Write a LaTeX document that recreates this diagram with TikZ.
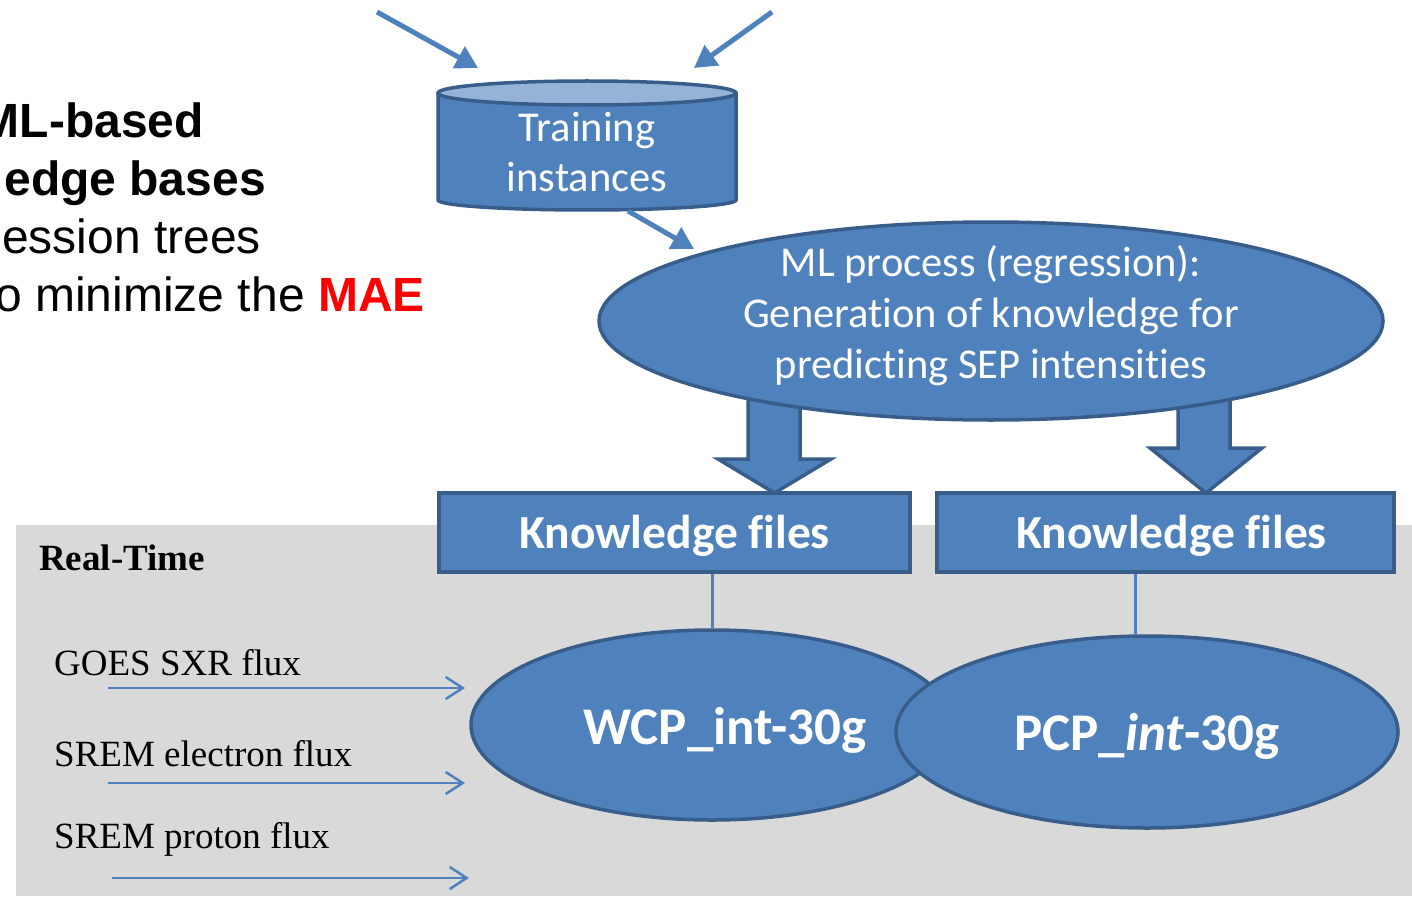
\documentclass[tikz,border=0pt]{standalone}
\usepackage{fontspec}
\setmainfont{Liberation Serif}
\newfontfamily\calfont[Ligatures=NoCommon]{Carlito}
\newfontfamily\arialfont{Liberation Sans}
\usetikzlibrary{shapes.geometric,arrows.meta}
\definecolor{ppblue}{HTML}{4F81BD}
\definecolor{ppedge}{HTML}{385D8A}
\definecolor{pplight}{HTML}{95B3D7}
\definecolor{ppgray}{HTML}{D9D9D9}
\definecolor{ppred}{HTML}{FF0000}
\newcommand{\lowered}[2]{\raisebox{-#1}[\height][\depth]{#2}}
\begin{document}
\begin{tikzpicture}[x=1pt,y=-1pt,
  bluefill/.style={fill=ppblue,draw=ppedge,line width=3.5pt},
  oval/.style={bluefill,ellipse,inner sep=0pt,text=white,align=center},
  filebox/.style={bluefill,rectangle,inner sep=0pt,text=white,
    font=\calfont\bfseries\fontsize{47.5}{52}\selectfont},
  feed/.style={draw=ppblue,line width=5pt,-{Triangle[length=22pt,width=24pt]}},
  inflow/.style={draw=ppblue,line width=2.5pt,-{Straight Barb[length=17pt,width=22pt,line width=2.5pt]}},
  tie/.style={draw=ppblue,line width=3pt},
  rtlabel/.style={anchor=base west,inner sep=0pt,font=\fontsize{37}{42}\selectfont},
  slide/.style={anchor=base east,inner sep=0pt,font=\arialfont\fontsize{48}{56}\selectfont},
]
\useasboundingbox (0,0) rectangle (1412,896);

% real-time panel
\fill[ppgray] (16,525) rectangle (1412,896);

% slide text on the left
\node[slide,font=\arialfont\bfseries\fontsize{48}{56}\selectfont] (s1) at (204,138) {ML-based};
\node[slide,font=\arialfont\bfseries\fontsize{48}{56}\selectfont] (s2) at (266,196) {edge bases};
\node[slide] (s3) at (261,253) {ession trees};
\node[slide] (s4) at (425,311) {o minimize the \textcolor{ppred}{\bfseries MAE}};

% training-instances cylinder
\fill[ppblue] (438,93) -- (438,200)
  -- plot[domain=180:360,samples=60,variable=\t] ({587+149*cos(\t)},{200-10*sin(\t)})
  -- (736,93) -- cycle;
\draw[ppedge,line width=3.5pt] (438,93) -- (438,200)
  -- plot[domain=180:360,samples=60,variable=\t] ({587+149*cos(\t)},{200-10*sin(\t)})
  -- (736,93);
\filldraw[fill=pplight,draw=ppedge,line width=3.5pt] (587,93) ellipse [x radius=149pt,y radius=12pt];
\node[inner sep=0pt,minimum width=298pt,minimum height=118pt,text=white,align=center,
  font=\calfont\fontsize{42.5}{50}\selectfont] (train) at (587,152) {Training\\instances};

% arrows feeding the training set
\coordinate (in1) at (377,12);
\coordinate (in2) at (772,12);
\coordinate (tl) at (478,68);
\coordinate (tr) at (694,68);
\draw[feed] (in1) -- (tl);
\draw[feed] (in2) -- (tr);
\coordinate (tout) at (628,211);
\coordinate (mlin) at (694,249);
\draw[feed] (tout) -- (mlin);

% block arrows from the ML process to the knowledge files
\filldraw[fill=ppblue,draw=ppedge,line width=3.5pt,line join=miter]
  (748,395) -- (748,459) -- (718,459) -- (774.5,493) -- (831,459) -- (800,459) -- (800,395);
\filldraw[fill=ppblue,draw=ppedge,line width=3.5pt,line join=miter]
  (1178,390) -- (1178,448) -- (1150,448) -- (1206,493) -- (1262,448) -- (1230,448) -- (1230,390);

% ML process
\node[oval,minimum width=784pt,minimum height=198pt] (ml) at (991,321) {};
\node[inner sep=0pt,text=white,align=center,font=\calfont\fontsize{42.5}{51}\selectfont]
  (mltext) at ([yshift=5pt]ml.center)
  {ML process (regression):\\Generation of knowledge for\\predicting SEP intensities};

% knowledge files
\node[filebox,minimum width=471pt,minimum height=79pt] (kf1) at (674.5,532.5) {\lowered{3pt}{Knowledge files}};
\node[filebox,minimum width=457pt,minimum height=79pt] (kf2) at (1165.5,532.5) {\hspace*{12pt}\lowered{3pt}{Knowledge files}};

% models
\node[oval,minimum width=482pt,minimum height=190pt,
  font=\calfont\bfseries\fontsize{53}{58}\selectfont] (wcp) at (712,725) {\hspace*{26pt}\lowered{5pt}{WCP\_int-30g}};
\node[oval,minimum width=502pt,minimum height=192pt,
  font=\calfont\bfseries\fontsize{53}{58}\selectfont] (pcp) at (1147,732) {\lowered{4pt}{PCP\_\textit{int}-30g}};

\draw[tie] (kf1.south -| wcp.north) -- (wcp.north);
\draw[tie] (kf2.south -| pcp.97) -- (pcp.97);

% real-time inputs
\node[anchor=base west,inner sep=0pt,font=\bfseries\fontsize{37}{42}\selectfont] (rt) at (39,570) {Real-Time};
\node[rtlabel] (goes) at (54,675) {GOES SXR flux};
\node[rtlabel] (ele) at (54,766) {SREM electron flux};
\node[rtlabel] (pro) at (54,848) {SREM proton flux};
\coordinate (g0) at (108,688);  \coordinate (g1) at (465,688);
\coordinate (e0) at (108,783);  \coordinate (e1) at (465,783);
\coordinate (p0) at (112,878);  \coordinate (p1) at (469,878);
\draw[inflow] (g0) -- (g1);
\draw[inflow] (e0) -- (e1);
\draw[inflow] (p0) -- (p1);
\end{tikzpicture}
\end{document}
